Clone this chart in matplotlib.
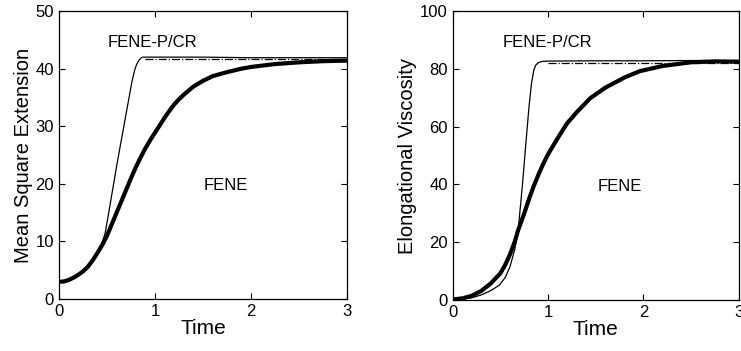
import numpy as np
import matplotlib.pyplot as plt

plt.rcParams['font.family'] = ['Liberation Sans', 'DejaVu Sans']

# Mean square extension
t_ext_fene = [0, 0.05, 0.1, 0.15, 0.2, 0.25, 0.3, 0.35, 0.4, 0.45, 0.5, 0.55, 0.6, 0.65,
              0.7, 0.75, 0.8, 0.85, 0.9, 0.95, 1.0, 1.05, 1.1, 1.15, 1.2, 1.25, 1.3,
              1.4, 1.5, 1.6, 1.75, 1.9, 2.0, 2.25, 2.5, 2.75, 3.0]
ext_fene = [3.0, 3.05, 3.3, 3.7, 4.2, 4.8, 5.6, 6.7, 8.0, 9.4, 11.0, 13.0, 15.0, 17.0,
            19.0, 21.0, 22.9, 24.6, 26.2, 27.6, 28.9, 30.2, 31.5, 32.7, 33.8, 34.7, 35.5,
            36.9, 37.9, 38.7, 39.4, 40.0, 40.3, 40.8, 41.1, 41.3, 41.4]
t_ext_cr = [0, 0.1, 0.2, 0.3, 0.4, 0.44, 0.48, 0.52, 0.6, 0.7, 0.76, 0.79, 0.81, 0.83,
            0.85, 0.87, 0.9, 1.0, 1.5, 2.0, 2.5, 3.0]
ext_cr = [3.0, 3.3, 4.2, 5.5, 8.0, 9.3, 11.4, 15.2, 23.1, 32.3, 37.8, 39.9, 40.8, 41.4,
          41.8, 42.0, 42.0, 42.0, 42.0, 41.9, 41.9, 41.9]
t_ext_dash = [0.9, 3.0]
ext_dash = [41.7, 41.7]

# Elongational viscosity
t_visc_fene = [0, 0.1, 0.2, 0.3, 0.4, 0.5, 0.55, 0.6, 0.65, 0.686, 0.75, 0.8, 0.85, 0.9,
               0.95, 1.0, 1.1, 1.2, 1.3, 1.44, 1.6, 1.8, 1.96, 2.2, 2.5, 2.75, 3.0]
visc_fene = [0.2, 0.6, 1.5, 3.2, 5.8, 9.3, 12.2, 15.8, 20.2, 24.2, 30.0, 35.0, 39.5, 43.5,
             47.2, 50.5, 56.0, 61.2, 65.0, 69.8, 73.5, 77.0, 79.2, 81.0, 82.3, 82.6, 82.5]
t_visc_cr = [0, 0.1, 0.2, 0.3, 0.4, 0.49, 0.55, 0.6, 0.65, 0.686, 0.73, 0.77, 0.8, 0.826,
             0.85, 0.87, 0.9, 0.94, 1.0, 1.5, 2.0, 2.5, 3.0]
visc_cr = [0.1, 0.3, 0.8, 1.8, 3.3, 5.2, 7.8, 11.5, 17.5, 24.2, 39.5, 55.4, 67.0, 75.0,
           79.5, 81.3, 82.2, 82.6, 82.7, 82.8, 82.8, 82.9, 82.8]
t_visc_dash = [1.0, 3.0]
visc_dash = [81.9, 81.9]

fig = plt.figure(figsize=(7.41, 3.51), dpi=100)
ax1 = fig.add_axes([0.0796, 0.148, 0.389, 0.8205])
ax2 = fig.add_axes([0.611, 0.145, 0.386, 0.8234])


def style(ax, ymax, ystep, ylabel):
    ax.set_xlim(0, 3)
    ax.set_ylim(0, ymax)
    ax.set_xticks([0, 1, 2, 3])
    ax.set_yticks(np.arange(0, ymax + 1, ystep))
    ax.tick_params(direction='in', top=True, right=True, length=4, labelsize=12,
                   width=0.8)
    ax.set_xlabel('Time', fontsize=15, labelpad=0)
    ax.set_ylabel(ylabel, fontsize=14.5, labelpad=2)
    for s in ax.spines.values():
        s.set_linewidth(0.9)


ax1.plot(t_ext_fene, ext_fene, color='black', lw=3.0, solid_joinstyle='round')
ax1.plot(t_ext_cr, ext_cr, color='black', lw=0.9)
ax1.plot(t_ext_dash, ext_dash, color='black', lw=0.9, ls='-.')
ax1.text(0.51, 44.6, 'FENE-P/CR', fontsize=12, va='center')
ax1.text(1.51, 19.8, 'FENE', fontsize=12, va='center')
style(ax1, 50, 10, 'Mean Square Extension')

ax2.plot(t_visc_fene, visc_fene, color='black', lw=3.0, solid_joinstyle='round')
ax2.plot(t_visc_cr, visc_cr, color='black', lw=0.9)
ax2.plot(t_visc_dash, visc_dash, color='black', lw=0.9, ls='-.')
ax2.text(0.52, 89.2, 'FENE-P/CR', fontsize=12, va='center')
ax2.text(1.52, 39.2, 'FENE', fontsize=12, va='center')
style(ax2, 100, 20, 'Elongational Viscosity')

fig.savefig('out.png', dpi=100)
